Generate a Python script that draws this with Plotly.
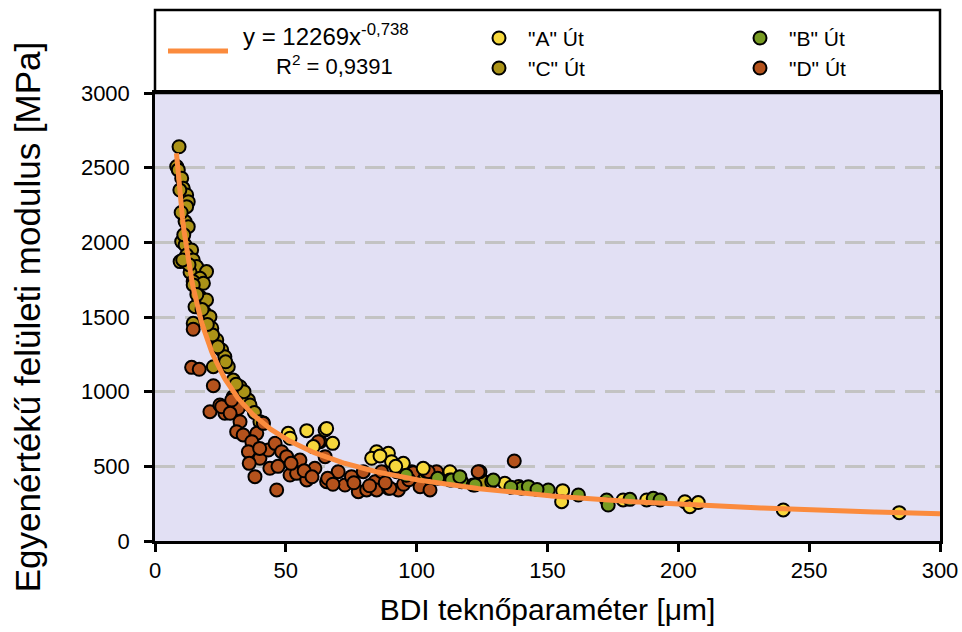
import numpy as np
import plotly.graph_objects as go

# ---- measured data: BDI trough parameter [um] vs equivalent surface modulus [MPa] ----
road_a_x = [50.9, 51.6, 58.0, 60.5, 65.0, 65.6, 67.9, 84.7, 89.2, 82.8, 90.4, 94.9, 102.5,
            112.7, 133.7, 155.8, 155.4, 178.9, 187.9, 202.5, 204.4, 207.6, 240.1, 284.4, 86.0, 92.0]
road_a_y = [721, 688, 739, 632, 743, 754, 654, 598, 587, 554, 531, 520, 487,
            464, 386, 337, 263, 275, 275, 263, 230, 257, 208, 190, 570, 500]

road_b_x = [117.2, 121.6, 128.7, 112.7, 113.4, 122.3, 129.3, 140.1, 142.7, 150.3, 161.8, 172.6,
            173.2, 181.5, 190.4, 193.0, 116.5, 136.0, 146.0, 108.0, 96.0]
road_b_y = [397, 375, 397, 408, 408, 375, 408, 353, 364, 342, 308, 275,
            241, 279, 286, 275, 431, 360, 345, 420, 440]

road_c_x = [9.2, 8.3, 8.9, 10.2, 10.8, 12.1, 12.7, 12.1, 11.5, 12.7, 10.2, 11.5, 14.0, 12.1, 14.6,
            9.6, 15.9, 19.7, 13.4, 17.2, 14.6, 18.5, 14.6, 17.2, 19.7, 15.3, 19.1, 21.0, 14.6, 21.7,
            23.6, 25.5, 26.7, 28.0, 22.3, 29.9, 32.5, 33.7, 35.7, 36.3, 29.9, 41.4, 38.0, 34.0, 31.0,
            27.0, 24.0, 22.0, 20.0, 18.0, 16.0, 13.0, 11.0, 10.0, 9.5, 10.6, 40.1,
            93.0, 103.0, 115.0, 126.0, 139.0]
road_c_y = [2640, 2507, 2485, 2429, 2362, 2317, 2272, 2239, 2139, 2105, 2005, 1982, 1949, 1915, 1882,
            1871, 1838, 1804, 1800, 1759, 1737, 1726, 1715, 1636, 1614, 1569, 1525, 1502, 1458, 1425,
            1346, 1279, 1234, 1167, 1167, 1078, 1033, 989, 944, 911, 965, 790, 860, 1000, 1050,
            1200, 1300, 1380, 1450, 1550, 1650, 1850, 2050, 2200, 2350, 1882, 799,
            485, 450, 420, 395, 365]

road_d_x = [14.6, 14.0, 16.9, 22.3, 21.0, 24.8, 26.7, 29.3, 31.8, 25.5, 29.3, 32.5, 31.2, 33.7,
            38.9, 37.0, 35.7, 40.1, 43.3, 45.9, 43.9, 38.2, 46.5, 48.4, 50.3, 51.6, 54.1, 55.4,
            58.0, 61.1, 63.1, 65.0, 41.4, 62.4, 65.6, 70.0, 72.6, 75.1, 77.7, 79.6, 80.9, 84.1,
            84.7, 86.6, 89.2, 92.4, 93.0, 98.1, 101.3, 103.8, 107.6, 105.1, 124.2, 137.3, 123.5,
            104.4, 98.7, 89.8, 28.7, 36.0, 40.0, 47.0, 52.0, 57.0, 60.0, 66.0, 68.0, 76.0,
            82.0, 88.0, 95.0, 97.0]
road_d_y = [1418, 1163, 1150, 1040, 866, 911, 855, 866, 888, 899, 944, 799, 732, 710,
            721, 665, 598, 554, 609, 654, 487, 431, 342, 598, 565, 442, 453, 542,
            409, 487, 665, 565, 788, 665, 397, 464, 375, 431, 330, 464, 342, 397,
            342, 464, 353, 464, 342, 464, 364, 464, 464, 342, 464, 536, 464,
            464, 457, 353, 855, 520, 620, 500, 520, 470, 430, 420, 380, 390,
            370, 390, 380, 410]

# power-law regression y = a * x^b
fit_a = 12269
fit_b = -0.738
fit_r2 = "0,9391"

x_ticks = [0, 50, 100, 150, 200, 250, 300]
y_ticks = [0, 500, 1000, 1500, 2000, 2500, 3000]

series = [
    ('"C" Út', road_c_x, road_c_y, "#ab9317"),
    ('"D" Út', road_d_x, road_d_y, "#b4521c"),
    ('"A" Út', road_a_x, road_a_y, "#f6d83c"),
    ('"B" Út', road_b_x, road_b_y, "#779b22"),
]

FONT = "Liberation Sans, Arial, sans-serif"
ORANGE = "#fb8b3d"

fig = go.Figure()
for name, xs, ys, col in series:
    fig.add_trace(go.Scatter(
        x=xs, y=ys, mode="markers", name=name, showlegend=False,
        marker=dict(size=13, color=col, line=dict(color="black", width=2)),
        xaxis="x", yaxis="y"))

fit_x = np.linspace(8.2, 300, 500)
fit_y = fit_a * fit_x ** fit_b
fig.add_trace(go.Scatter(x=fit_x, y=fit_y, mode="lines", showlegend=False,
                         line=dict(color=ORANGE, width=5), xaxis="x", yaxis="y"))

# ---- legend panel above the plot, drawn on its own hidden axes (0..785 x 0..83 px) ----
split = 448 / 531
legend_pos = {'"A" Út': (344, 55), '"C" Út': (344, 25), '"B" Út': (605, 55), '"D" Út': (605, 25)}
for name, xs, ys, col in series:
    lx, ly = legend_pos[name]
    fig.add_trace(go.Scatter(
        x=[lx], y=[ly], mode="markers", showlegend=False, hoverinfo="skip",
        marker=dict(size=13, color=col, line=dict(color="black", width=2)),
        xaxis="x2", yaxis="y2"))
    fig.add_annotation(x=lx + 27, y=ly, xref="x2", yref="y2", text=name, showarrow=False,
                       xanchor="left", yanchor="middle", font=dict(family=FONT, size=21, color="black"))

fig.add_trace(go.Scatter(x=[13, 73], y=[42, 42], mode="lines", showlegend=False, hoverinfo="skip",
                         line=dict(color=ORANGE, width=5), xaxis="x2", yaxis="y2"))
fig.add_annotation(x=86, y=58, xref="x2", yref="y2", showarrow=False, xanchor="left", yanchor="middle",
                   text=f"y = {fit_a}x<sup>{str(fit_b).replace('.', ',')}</sup>",
                   font=dict(family=FONT, size=24, color="black"))
fig.add_annotation(x=119, y=28, xref="x2", yref="y2", showarrow=False, xanchor="left", yanchor="middle",
                   text=f"R<sup>2</sup> = {fit_r2}",
                   font=dict(family=FONT, size=22, color="black"))

fig.add_shape(type="rect", xref="paper", yref="paper", x0=0, x1=1, y0=split, y1=1,
              fillcolor="white", line=dict(color="black", width=2.5), layer="below")

axis_font = dict(family=FONT, size=22, color="black")
fig.update_layout(
    width=962, height=632,
    margin=dict(l=155, r=22, t=10, b=91, autoexpand=False),
    paper_bgcolor="white",
    plot_bgcolor="#e2e0f4",
    font=dict(family=FONT, color="black"),
    xaxis=dict(domain=[0, 1], anchor="y", range=[0, 300], tickvals=x_ticks, automargin=False,
               showgrid=False, zeroline=False, showline=True, linecolor="black", linewidth=2.5,
               mirror=True, ticks="outside", ticklen=8, tickwidth=2.5, tickcolor="black",
               tickfont=axis_font,
               title=dict(text="BDI teknőparaméter [μm]", font=dict(family=FONT, size=30), standoff=17)),
    yaxis=dict(domain=[0, split], anchor="x", range=[0, 3000], tickvals=y_ticks, automargin=False,
               showgrid=True, gridcolor="#c3c3c3", gridwidth=2.5, griddash="20px,10px",
               zeroline=False, showline=True, linecolor="black", linewidth=2.5,
               mirror=True, ticks="outside", ticklen=8, tickwidth=2.5, tickcolor="black",
               tickfont=axis_font, ticklabelstandoff=10,
               title=dict(text="Egyenértékű felületi modulus [MPa]", font=dict(family=FONT, size=35),
                          standoff=30)),
    xaxis2=dict(domain=[0, 1], anchor="y2", range=[0, 785], visible=False, automargin=False),
    yaxis2=dict(domain=[split, 1], anchor="x2", range=[0, 83], visible=False, automargin=False),
)

fig.write_html("out.html")
